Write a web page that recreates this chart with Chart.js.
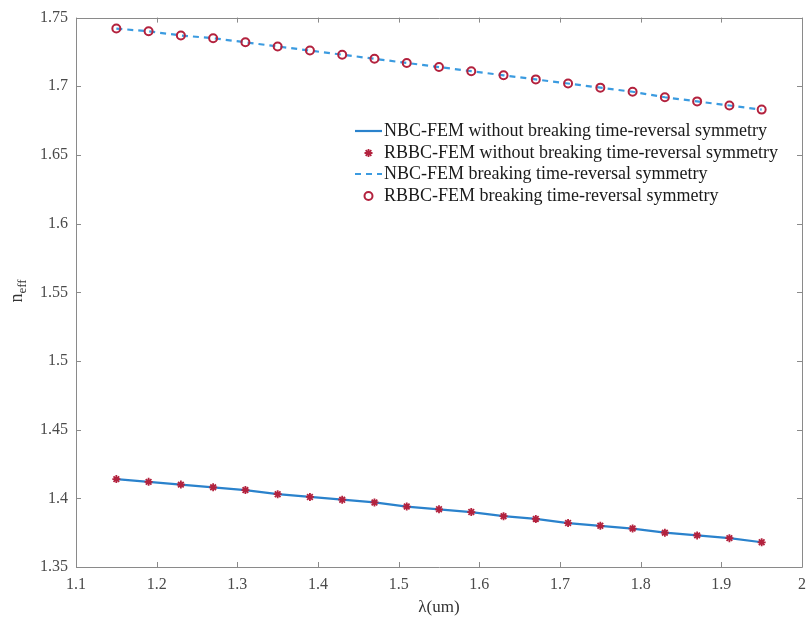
<!DOCTYPE html>
<html>
<head>
<meta charset="utf-8">
<script src="https://cdn.jsdelivr.net/npm/chart.js@4"></script>
<style>
  html, body { margin: 0; padding: 0; background: #fff; overflow: hidden; }
  #wrap { width: 806px; height: 619px; position: relative; overflow: hidden; }
</style>
</head>
<body>
<div id="wrap"><canvas id="neffChart" width="808" height="619"></canvas></div>
<script>
// wavelength samples (um)
var wavelengths = [1.15, 1.19, 1.23, 1.27, 1.31, 1.35, 1.39, 1.43, 1.47, 1.51, 1.55,
  1.59, 1.63, 1.67, 1.71, 1.75, 1.79, 1.83, 1.87, 1.91, 1.95];

// n_eff without breaking time-reversal symmetry
var neffNoBreak = [1.414, 1.412, 1.410, 1.408, 1.406, 1.403, 1.401, 1.399, 1.397, 1.394, 1.392,
  1.390, 1.387, 1.385, 1.382, 1.380, 1.378, 1.375, 1.373, 1.371, 1.368];

// n_eff breaking time-reversal symmetry
var neffBreak = [1.742, 1.740, 1.737, 1.735, 1.732, 1.729, 1.726, 1.723, 1.720, 1.717, 1.714,
  1.711, 1.708, 1.705, 1.702, 1.699, 1.696, 1.692, 1.689, 1.686, 1.683];

var seriesLabels = [
  "NBC-FEM without breaking time-reversal symmetry",
  "RBBC-FEM without breaking time-reversal symmetry",
  "NBC-FEM breaking time-reversal symmetry",
  "RBBC-FEM breaking time-reversal symmetry"
];

var xTicks = [1.1, 1.2, 1.3, 1.4, 1.5, 1.6, 1.7, 1.8, 1.9, 2.0];
var xTickLabels = ["1.1", "1.2", "1.3", "1.4", "1.5", "1.6", "1.7", "1.8", "1.9", "2"];
var yTicks = [1.35, 1.4, 1.45, 1.5, 1.55, 1.6, 1.65, 1.7, 1.75];
var yTickLabels = ["1.35", "1.4", "1.45", "1.5", "1.55", "1.6", "1.65", "1.7", "1.75"];

function toPoints(ys) {
  return wavelengths.map(function (x, i) {
    return { x: x, y: ys[i] };
  });
}

var solidBlue = "#2a82cc";
var dashBlue = "#3b9be0";
var markerRed = "#b3223e";
var axisGray = "#8a8a8a";
var serif = "'Liberation Serif', 'DejaVu Serif', serif";

// box, inward ticks, x labels, axis titles and legend drawn on the canvas
var matlabAxes = {
  id: "matlabAxes",
  afterDatasetsDraw: function (chart) {
    var ctx = chart.ctx;
    var a = chart.chartArea;
    var xs = chart.scales.x, ys = chart.scales.y;
    var tl = 5;
    ctx.save();
    ctx.strokeStyle = axisGray;
    ctx.lineWidth = 1;
    ctx.beginPath();
    ctx.rect(Math.round(a.left) + 0.5, Math.round(a.top) + 0.5,
      Math.round(a.right - a.left), Math.round(a.bottom - a.top));
    xTicks.forEach(function (v) {
      var px = Math.round(xs.getPixelForValue(v)) + 0.5;
      ctx.moveTo(px, a.bottom); ctx.lineTo(px, a.bottom - tl);
      ctx.moveTo(px, a.top); ctx.lineTo(px, a.top + tl);
    });
    yTicks.forEach(function (v) {
      var py = Math.round(ys.getPixelForValue(v)) + 0.5;
      ctx.moveTo(a.left, py); ctx.lineTo(a.left + tl, py);
      ctx.moveTo(a.right, py); ctx.lineTo(a.right - tl, py);
    });
    ctx.stroke();

    // x tick labels
    ctx.fillStyle = "#4a4a4a";
    ctx.font = "16px " + serif;
    ctx.textAlign = "center";
    ctx.textBaseline = "middle";
    xTicks.forEach(function (v, i) {
      ctx.fillText(xTickLabels[i], xs.getPixelForValue(v), a.bottom + 18);
    });

    // x title
    ctx.fillStyle = "#333";
    ctx.font = "17px " + serif;
    ctx.fillText("λ(um)", 439, 608);

    // y title n_eff
    ctx.textAlign = "left";
    ctx.translate(22, 291);
    ctx.rotate(-Math.PI / 2);
    ctx.textBaseline = "alphabetic";
    ctx.font = "18px " + serif;
    var nW = ctx.measureText("n").width;
    ctx.font = "13px " + serif;
    var subW = ctx.measureText("eff").width;
    var startX = -(nW + subW) / 2;
    ctx.font = "18px " + serif;
    ctx.fillText("n", startX, 0);
    ctx.font = "13px " + serif;
    ctx.fillText("eff", startX + nW, 4);
    ctx.restore();

    // legend
    ctx.save();
    ctx.font = "18px " + serif;
    ctx.textBaseline = "middle";
    var rowY = [131, 153, 174, 196];
    var symL = 355, symR = 382, textX = 384;
    chart.data.datasets.forEach(function (ds, i) {
      var y = rowY[i];
      if (ds.showLine) {
        ctx.strokeStyle = ds.borderColor;
        ctx.lineWidth = ds.borderWidth;
        ctx.setLineDash(ds.borderDash || []);
        ctx.beginPath();
        ctx.moveTo(symL, y); ctx.lineTo(symR, y);
        ctx.stroke();
        ctx.setLineDash([]);
      } else {
        ctx.strokeStyle = ds.borderColor;
        ctx.fillStyle = ds.backgroundColor;
        ctx.lineWidth = ds.borderWidth;
        Chart.helpers.drawPoint(ctx, {
          pointStyle: ds.pointStyle,
          radius: ds.pointRadius,
          borderWidth: ds.borderWidth,
          rotation: 0
        }, (symL + symR) / 2, y);
      }
      ctx.fillStyle = "#1a1a1a";
      ctx.fillText(ds.label, textX, y);
    });
    ctx.restore();
  }
};

var ctx = document.getElementById("neffChart").getContext("2d");
var neffChart = new Chart(ctx, {
  type: "scatter",
  data: {
    datasets: [
      {
        label: seriesLabels[0],
        data: toPoints(neffNoBreak),
        showLine: true,
        borderColor: solidBlue,
        borderWidth: 2.2,
        pointRadius: 0,
        order: 2
      },
      {
        label: seriesLabels[1],
        data: toPoints(neffNoBreak),
        showLine: false,
        pointStyle: "star",
        pointRadius: 4,
        borderColor: markerRed,
        backgroundColor: markerRed,
        borderWidth: 1.8,
        order: 0
      },
      {
        label: seriesLabels[2],
        data: toPoints(neffBreak),
        showLine: true,
        borderColor: dashBlue,
        borderWidth: 2.2,
        borderDash: [6, 5],
        pointRadius: 0,
        order: 2
      },
      {
        label: seriesLabels[3],
        data: toPoints(neffBreak),
        showLine: false,
        pointStyle: "circle",
        pointRadius: 4,
        borderColor: markerRed,
        backgroundColor: "rgba(0,0,0,0)",
        borderWidth: 2,
        order: 0
      }
    ]
  },
  options: {
    responsive: false,
    animation: false,
    layout: { padding: { top: 17, right: 0, left: 0, bottom: 0 } },
    plugins: {
      legend: { display: false },
      tooltip: { enabled: false }
    },
    scales: {
      x: {
        type: "linear",
        min: 1.1,
        max: 2.0,
        afterFit: function (scale) {
          scale.height = 52;
        },
        grid: { display: false, drawTicks: false },
        border: { display: false },
        ticks: { display: false }
      },
      y: {
        type: "linear",
        min: 1.35,
        max: 1.75,
        afterBuildTicks: function (scale) {
          scale.ticks = yTicks.map(function (v) { return { value: v }; });
        },
        afterFit: function (scale) {
          scale.width = 76;
        },
        grid: { display: false, drawTicks: false },
        border: { display: false },
        ticks: {
          autoSkip: false,
          padding: 8,
          color: "#4a4a4a",
          font: { family: serif, size: 16 },
          callback: function (value, index) { return yTickLabels[index]; }
        }
      }
    }
  },
  plugins: [matlabAxes]
});
</script>
</body>
</html>
